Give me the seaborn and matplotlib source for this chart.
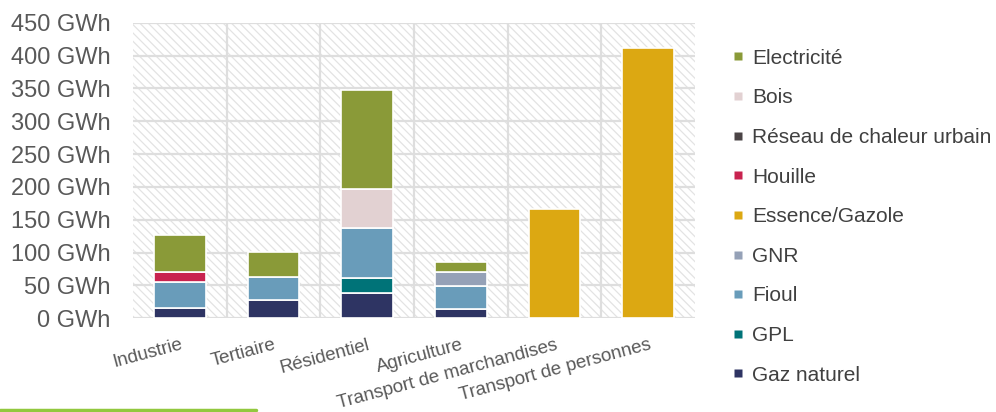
import numpy as np
import pandas as pd
import matplotlib
matplotlib.use('Agg')
import matplotlib.pyplot as plt
from matplotlib.patches import Rectangle
from matplotlib.lines import Line2D
import seaborn as sns

sectors = ['Industrie', 'Tertiaire', 'Résidentiel', 'Agriculture',
           'Transport de marchandises', 'Transport de personnes']

# stacked bottom -> top
gaz_naturel = [15, 28, 38, 14, 0, 0]
gpl = [0, 0, 23, 0, 0, 0]
fioul = [41, 35, 76, 35, 0, 0]
gnr = [0, 0, 0, 21, 0, 0]
essence = [0, 0, 0, 0, 166, 412]
houille = [15, 0, 0, 0, 0, 0]
reseau = [0, 0, 0, 0, 0, 0]
bois = [0, 0, 60, 0, 0, 0]
electricite = [56, 38, 150, 16, 0, 0]

energies = ['Gaz naturel', 'GPL', 'Fioul', 'GNR', 'Essence/Gazole',
            'Houille', 'Réseau de chaleur urbain', 'Bois', 'Electricité']
series = [gaz_naturel, gpl, fioul, gnr, essence, houille, reseau, bois, electricite]
colors = ['#2e3463', '#007378', '#699cba', '#95a1b7', '#dca812',
          '#c8234f', '#4b4446', '#e2d1d2', '#8a9a38']

yticks = [0, 50, 100, 150, 200, 250, 300, 350, 400, 450]

sns.set_theme(style='white')
plt.rcParams['font.family'] = ['Liberation Sans', 'DejaVu Sans']
plt.rcParams['hatch.linewidth'] = 0.9

fig = plt.figure(figsize=(9.96, 4.12), dpi=100)
ax = fig.add_axes([0.1335, 0.2274, 0.5643, 0.7176])

# hatched background
ax.add_patch(Rectangle((0, 0), 1, 1, transform=ax.transAxes, facecolor='none',
                       edgecolor='#e3e3e3', hatch='\\\\\\\\', lw=0, zorder=0))

bottom = np.zeros(len(sectors))
for name, vals, col in zip(energies, series, colors):
    vals = np.array(vals, dtype=float)
    df = pd.DataFrame({'sector': sectors, 'value': vals, 'bottom': bottom})
    df = df[df['value'] > 0]
    if len(df):
        sns.barplot(data=df, x='sector', y='value', order=sectors, color=col,
                    width=0.55, bottom=df['bottom'].values, edgecolor='white',
                    linewidth=1.2, saturation=1, ax=ax, zorder=3)
    bottom = bottom + vals

ax.set_xlim(-0.5, len(sectors) - 0.5)
ax.set_ylim(0, 450)
ax.set_yticks(yticks)
ax.set_yticklabels([f'{v} GWh' for v in yticks], fontsize=17, color='#595959')
for v in yticks:
    ax.axhline(v, color='#dedede', lw=1.6, zorder=1)
for x in np.arange(0.5, len(sectors) - 0.5, 1):
    ax.axvline(x, color='#dedede', lw=1.6, zorder=1)

ax.set_xticks(range(len(sectors)))
ax.set_xticklabels(sectors, fontsize=13.5, color='#595959', rotation=15,
                   ha='right', rotation_mode='anchor')
ax.tick_params(axis='x', length=0, pad=13)
ax.tick_params(axis='y', length=0, pad=16)
ax.set_xlabel('')
ax.set_ylabel('')
for s in ax.spines.values():
    s.set_visible(False)

handles = [Line2D([], [], marker='s', linestyle='none', markersize=6,
                  markerfacecolor=c, markeredgecolor='none')
           for c in colors[::-1]]
fig.legend(handles, energies[::-1], loc='upper left', bbox_to_anchor=(0.725, 0.907),
           frameon=False, fontsize=15, labelcolor='#404040', handlelength=0.5,
           handletextpad=0.45, labelspacing=0.99, borderpad=0)

fig.add_artist(Line2D([0, 0.257], [0.004, 0.004], color='#92c83e', lw=2.5))

fig.savefig('out.png', dpi=100)
